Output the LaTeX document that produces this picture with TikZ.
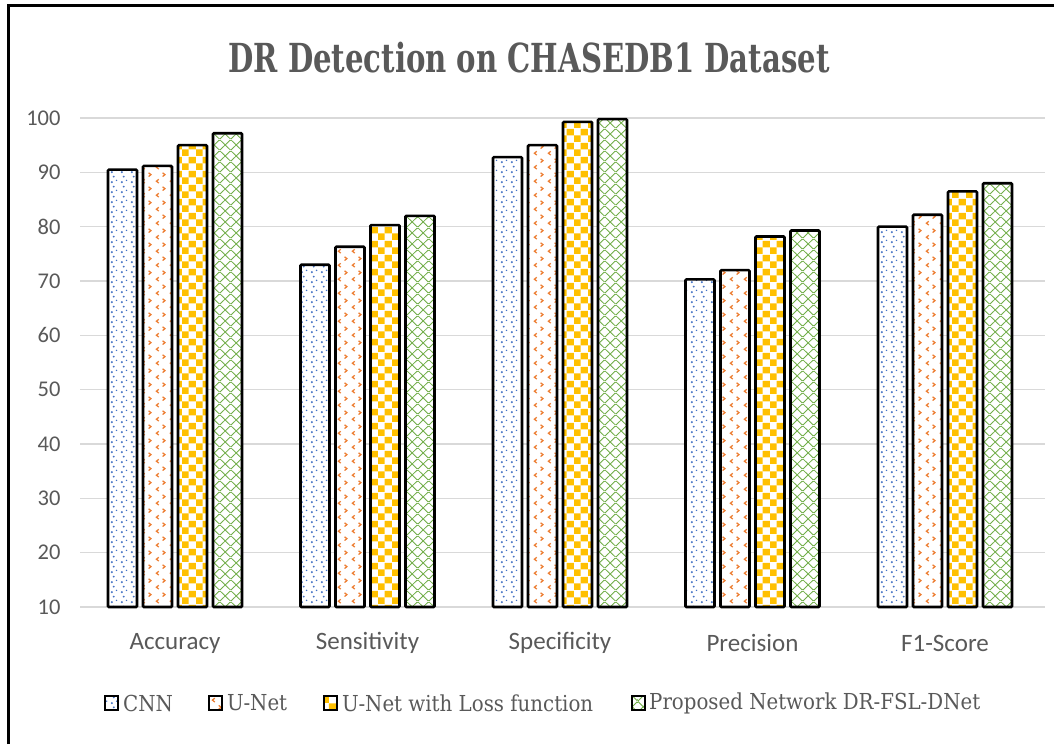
\documentclass[tikz,border=0pt]{standalone}
\usepackage{fontspec}
\setmainfont{Carlito}
\newfontfamily\titlefont{DejaVu Serif Condensed}
\newfontfamily\legendfont{DejaVu Serif Condensed}
\usetikzlibrary{patterns.meta}

\definecolor{labelgray}{HTML}{595959}
\definecolor{gridgray}{HTML}{D9D9D9}
\definecolor{dotblue}{HTML}{4472C4}
\definecolor{chevorange}{HTML}{ED7D31}
\definecolor{checkgold}{HTML}{FFC000}
\definecolor{hatchgreen}{HTML}{70AD47}

% bar fillings
\tikzdeclarepattern{
  name=cnndots,
  type=colored,
  bounding box={(0pt,0pt) and (10pt,10pt)},
  tile size={(10pt,10pt)},
  code={
    \fill[dotblue] (2pt,2pt) circle (1.2pt);
    \fill[dotblue] (7pt,4pt) circle (0.9pt);
    \fill[dotblue] (4pt,8pt) circle (1.1pt);
  }
}
\tikzdeclarepattern{
  name=unetchev,
  type=colored,
  bounding box={(0pt,0pt) and (14pt,14pt)},
  tile size={(14pt,14pt)},
  code={
    \draw[chevorange, line width=1.3pt] (5pt,1pt) -- (2.5pt,3pt) -- (5pt,5pt);
    \draw[chevorange, line width=1.3pt] (9pt,8pt) -- (11.5pt,10pt) -- (9pt,12pt);
  }
}
\tikzdeclarepattern{
  name=losscheck,
  type=colored,
  bounding box={(0pt,0pt) and (14pt,14pt)},
  tile size={(14pt,14pt)},
  code={
    \fill[checkgold] (0pt,0pt) rectangle (7pt,7pt);
    \fill[checkgold] (7pt,7pt) rectangle (14pt,14pt);
  }
}
\tikzdeclarepattern{
  name=propdiam,
  type=colored,
  bounding box={(0pt,0pt) and (11pt,11pt)},
  tile size={(11pt,11pt)},
  code={
    \draw[hatchgreen, line width=0.9pt] (0pt,0pt) -- (11pt,11pt);
    \draw[hatchgreen, line width=0.9pt] (0pt,11pt) -- (11pt,0pt);
  }
}

\begin{document}
\begin{tikzpicture}[x=1pt, y=-1pt,
    bar/.style={draw=black, line width=2.6pt, rounded corners=1pt, preaction={fill=white}},
    cnn_bar/.style={bar, pattern=cnndots},
    unet_bar/.style={bar, pattern=unetchev},
    loss_bar/.style={bar, pattern=losscheck},
    prop_bar/.style={bar, pattern=propdiam},
    key_box/.style={draw=black, line width=2pt, preaction={fill=white}},
    grid_line/.style={draw=gridgray, line width=1.6pt},
    tick_label/.style={text=labelgray, font=\fontsize{22.5}{26}\selectfont, anchor=east},
    cat_label/.style={text=labelgray, font=\fontsize{25}{30}\selectfont},
    key_label/.style={text=labelgray, font=\legendfont\fontsize{22}{27}\selectfont, anchor=west, inner sep=0pt}
    ]
    \useasboundingbox (0,0) rectangle (1054,744);
    % frame
    \draw[line width=3pt] (8,744) -- (8,5) -- (1054,5);

    % title
    \node[text=labelgray, font=\titlefont\bfseries\fontsize{40}{46}\selectfont] (title) at (529,58)
        {\scalebox{0.81}[1]{DR Detection on CHASEDB1 Dataset}};

    % grid and y axis
    \foreach \v in {10,20,...,100} {
        \draw[grid_line] (80,{607-(\v-10)*5.433}) -- (1045,{607-(\v-10)*5.433});
        \node[tick_label] (tick_\v) at (64,{607-(\v-10)*5.433}) {\v};
    }

    % bars
    \foreach \g/\va/\vb/\vc/\vd/\cat in {0/90.5/91.2/95/97.2/Accuracy,
                                         1/73/76.3/80.3/82/Sensitivity,
                                         2/92.8/95/99.3/99.8/Specificity,
                                         3/70.3/72/78.2/79.3/Precision,
                                         4/80/82.2/86.5/88/F1-Score} {
        \pgfmathsetmacro{\cx}{175+192.5*\g}
        \draw[cnn_bar]  ({\cx-67},607) rectangle ({\cx-38},{607-(\va-10)*5.433});
        \draw[unet_bar] ({\cx-32},607) rectangle ({\cx-3},{607-(\vb-10)*5.433});
        \draw[loss_bar] ({\cx+3},607) rectangle ({\cx+32},{607-(\vc-10)*5.433});
        \draw[prop_bar] ({\cx+38},607) rectangle ({\cx+67},{607-(\vd-10)*5.433});
        \node[cat_label] (cat_\g) at (\cx,643) {\cat};
    }

    % legend
    \draw[key_box, pattern=cnndots]   (105,696) rectangle (118,710);
    \node[key_label] (key_cnn)  at (123,703) {CNN};
    \draw[key_box, pattern=unetchev]  (209,696) rectangle (222,710);
    \node[key_label] (key_unet) at (227,703) {U-Net};
    \draw[key_box, pattern=losscheck] (324,696) rectangle (337,710);
    \node[key_label] (key_loss) at (342,703) {U-Net with Loss function};
    \draw[key_box, pattern=propdiam]  (632,696) rectangle (645,710);
    \node[key_label] (key_prop) at (649,703) {Proposed Network DR-FSL-DNet};
\end{tikzpicture}
\end{document}
